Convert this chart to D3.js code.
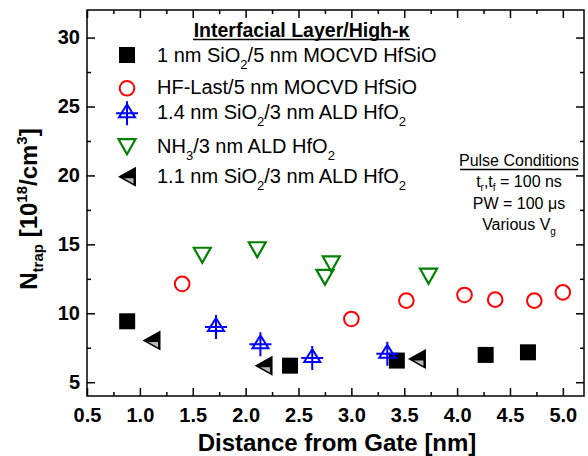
<!DOCTYPE html>
<html><head><meta charset="utf-8">
<script src="https://cdn.jsdelivr.net/npm/d3@7"></script>
<style>body{margin:0;background:#fff}svg{display:block;font-family:"Liberation Sans",Arial,sans-serif}</style>
</head><body>
<svg id="c" width="588" height="456"></svg>
<script>
// Data
const sqX = [0.88, 2.42, 3.43, 4.27, 4.67];
const sqY = [9.42, 6.20, 6.57, 6.98, 7.17];
const circX = [1.40, 3.00, 3.52, 4.07, 4.36, 4.73, 5.00];
const circY = [12.13, 9.59, 10.92, 11.33, 10.99, 10.92, 11.52];
const blueX = [1.72, 2.14, 2.63, 3.34];
const blueY = [9.01, 7.75, 6.75, 7.07];
const greenX = [1.59, 2.11, 2.75, 2.81, 3.73];
const greenY = [14.21, 14.61, 12.61, 13.58, 12.69];
const leftX = [1.11, 2.17, 3.62];
const leftY = [8.02, 6.20, 6.69];
const xTicks = [0.5, 1.0, 1.5, 2.0, 2.5, 3.0, 3.5, 4.0, 4.5, 5.0];
const yTicks = [5, 10, 15, 20, 25, 30];

const svg = d3.select("#c");
const L = 87, R = 584, T = 10, B = 396;
const x = d3.scaleLinear().domain([0.5, 5.2]).range([L, R]);
const y = d3.scaleLinear().domain([4, 32]).range([B, T]);

const xMinor = d3.range(0.75, 5.2, 0.5);
const yMinor = d3.range(7.5, 32, 5);

// frame
svg.append("rect").attr("x", L).attr("y", T).attr("width", R - L).attr("height", B - T)
  .attr("fill", "none").attr("stroke", "#000").attr("stroke-width", 1.5);

function axisGroup(axis, tx, ty) {
  const g = svg.append("g").attr("transform", `translate(${tx},${ty})`).call(axis);
  g.select(".domain").remove();
  g.selectAll("line").attr("stroke", "#000").attr("stroke-width", 1.5);
  return g;
}
// bottom
const gb = axisGroup(d3.axisBottom(x).tickValues(xTicks).tickSizeInner(-8).tickSizeOuter(0).tickPadding(12).tickFormat(d3.format(".1f")), 0, B);
gb.selectAll("text").attr("font-size", 20).attr("font-weight", "bold").attr("fill", "#000");
axisGroup(d3.axisBottom(x).tickValues(xMinor).tickSizeInner(-4).tickSizeOuter(0).tickFormat(""), 0, B);
// top
axisGroup(d3.axisTop(x).tickValues(xTicks).tickSizeInner(-8).tickSizeOuter(0).tickFormat(""), 0, T);
axisGroup(d3.axisTop(x).tickValues(xMinor).tickSizeInner(-4).tickSizeOuter(0).tickFormat(""), 0, T);
// left
const gl = axisGroup(d3.axisLeft(y).tickValues(yTicks).tickSizeInner(-8).tickSizeOuter(0).tickPadding(7), L, 0);
gl.selectAll("text").attr("font-size", 20).attr("font-weight", "bold").attr("fill", "#000");
axisGroup(d3.axisLeft(y).tickValues(yMinor).tickSizeInner(-4).tickSizeOuter(0).tickFormat(""), L, 0);
// right
axisGroup(d3.axisRight(y).tickValues(yTicks).tickSizeInner(-8).tickSizeOuter(0).tickFormat(""), R, 0);
axisGroup(d3.axisRight(y).tickValues(yMinor).tickSizeInner(-4).tickSizeOuter(0).tickFormat(""), R, 0);

// axis titles
svg.append("text").attr("x", 337).attr("y", 451).attr("text-anchor", "middle")
  .attr("font-size", 24).attr("font-weight", "bold").text("Distance from Gate [nm]");
const yt = svg.append("text").attr("transform", "translate(37,209) rotate(-90)")
  .attr("text-anchor", "middle").attr("font-size", 24).attr("font-weight", "bold");
yt.append("tspan").text("N");
yt.append("tspan").attr("font-size", 15).attr("dy", 6).text("trap");
yt.append("tspan").attr("dy", -6).text(" [10");
yt.append("tspan").attr("font-size", 15).attr("dy", -10).text("18");
yt.append("tspan").attr("dy", 10).text("/cm");
yt.append("tspan").attr("font-size", 15).attr("dy", -10).text("3");
yt.append("tspan").attr("dy", 10).text("]");

// marker drawers
function drawSquare(g, cx, cy) {
  g.append("rect").attr("x", cx - 8).attr("y", cy - 8).attr("width", 16).attr("height", 16).attr("fill", "#000");
}
function drawCircle(g, cx, cy) {
  g.append("circle").attr("cx", cx).attr("cy", cy).attr("r", 7.3).attr("fill", "none").attr("stroke", "#f00").attr("stroke-width", 2);
}
function drawBlue(g, cx, cy) {
  const p = d3.path();
  p.moveTo(cx, cy - 9); p.lineTo(cx + 8, cy + 4); p.lineTo(cx - 8, cy + 4); p.closePath();
  p.moveTo(cx - 11, cy); p.lineTo(cx + 11, cy);
  p.moveTo(cx, cy - 12); p.lineTo(cx, cy + 12);
  g.append("path").attr("d", p.toString()).attr("fill", "none").attr("stroke", "#00f").attr("stroke-width", 2);
}
function drawGreen(g, cx, cy) {
  const p = d3.path();
  p.moveTo(cx - 8.5, cy - 7.5); p.lineTo(cx + 8.5, cy - 7.5); p.lineTo(cx, cy + 7.5); p.closePath();
  g.append("path").attr("d", p.toString()).attr("fill", "none").attr("stroke", "#008000").attr("stroke-width", 2.2);
}
function drawLeft(g, cx, cy) {
  const p = d3.path();
  p.moveTo(cx - 9, cy); p.lineTo(cx + 9, cy - 10); p.lineTo(cx + 9, cy + 10); p.closePath();
  g.append("path").attr("d", p.toString()).attr("fill", "#000");
  const q = d3.path();
  q.moveTo(cx - 3, cy + 1.5); q.lineTo(cx + 6.5, cy + 1.5); q.lineTo(cx + 6.5, cy + 7); q.closePath();
  g.append("path").attr("d", q.toString()).attr("fill", "#b8b8b8");
}

const marks = svg.append("g");
sqX.forEach((v, i) => drawSquare(marks, x(v), y(sqY[i])));
circX.forEach((v, i) => drawCircle(marks, x(v), y(circY[i])));
blueX.forEach((v, i) => drawBlue(marks, x(v), y(blueY[i])));
greenX.forEach((v, i) => drawGreen(marks, x(v), y(greenY[i])));
leftX.forEach((v, i) => drawLeft(marks, x(v), y(leftY[i])));

// legend
const lg = svg.append("g");
lg.append("text").attr("x", 301.5).attr("y", 36.5).attr("text-anchor", "middle")
  .attr("font-size", 19.5).attr("font-weight", "bold").text("Interfacial Layer/High-κ");
lg.append("line").attr("x1", 193).attr("x2", 410).attr("y1", 39.5).attr("y2", 39.5).attr("stroke", "#000").attr("stroke-width", 1.5);

const legendRows = [
  {draw: drawSquare, cy: 55, base: 61.7, parts: [["1 nm SiO"], ["2", "sub"], ["/5 nm MOCVD HfSiO"]]},
  {draw: drawCircle, cy: 88.3, base: 94.3, parts: [["HF-Last/5 nm MOCVD HfSiO"]]},
  {draw: drawBlue, cy: 113.3, base: 119.3, parts: [["1.4 nm SiO"], ["2", "sub"], ["/3 nm ALD HfO"], ["2", "sub"]]},
  {draw: drawGreen, cy: 146.7, base: 153.3, parts: [["NH"], ["3", "sub"], ["/3 nm ALD HfO"], ["2", "sub"]]},
  {draw: drawLeft, cy: 176.7, base: 183.3, parts: [["1.1 nm SiO"], ["2", "sub"], ["/3 nm ALD HfO"], ["2", "sub"]]}
];
legendRows.forEach(r => {
  r.draw(lg, 127, r.cy);
  const t = lg.append("text").attr("x", 157).attr("y", r.base).attr("font-size", 20);
  let shifted = false;
  r.parts.forEach(([s, k]) => {
    const ts = t.append("tspan").text(s);
    if (k === "sub") { ts.attr("font-size", 13).attr("dy", 7); shifted = true; }
    else if (shifted) { ts.attr("dy", -7); shifted = false; }
  });
});

// pulse conditions
const pc = svg.append("g").attr("font-size", 16).attr("text-anchor", "middle");
pc.append("text").attr("x", 519).attr("y", 166).text("Pulse Conditions");
pc.append("line").attr("x1", 460).attr("x2", 578).attr("y1", 169.5).attr("y2", 169.5).attr("stroke", "#000").attr("stroke-width", 1.3);
const p1 = pc.append("text").attr("x", 519).attr("y", 187);
p1.append("tspan").text("t");
p1.append("tspan").attr("font-size", 10).attr("dy", 4).text("r");
p1.append("tspan").attr("dy", -4).text(",t");
p1.append("tspan").attr("font-size", 10).attr("dy", 4).text("f");
p1.append("tspan").attr("dy", -4).text(" = 100 ns");
pc.append("text").attr("x", 519).attr("y", 208.5).text("PW = 100 μs");
const p3 = pc.append("text").attr("x", 519).attr("y", 230);
p3.append("tspan").text("Various V");
p3.append("tspan").attr("font-size", 10).attr("dy", 5).text("g");
</script>
</body></html>
